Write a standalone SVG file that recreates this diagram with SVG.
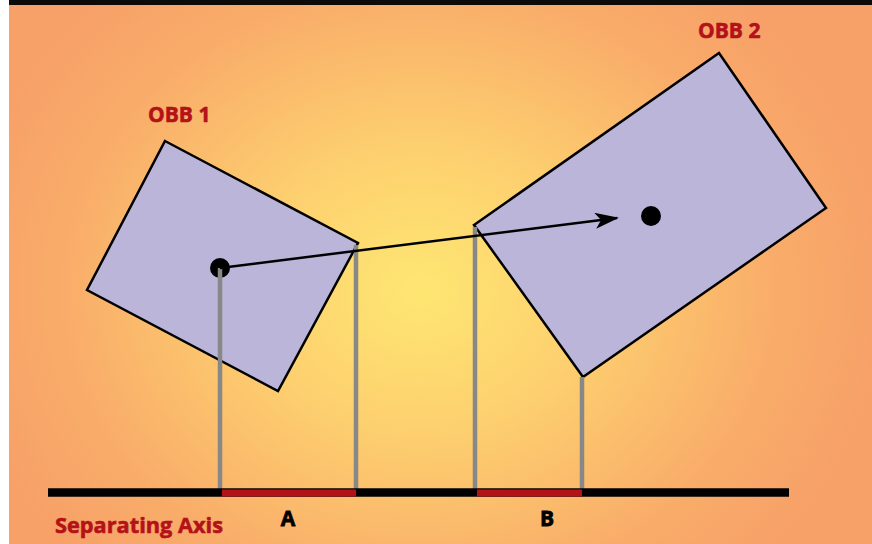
<svg xmlns="http://www.w3.org/2000/svg" width="872" height="544" viewBox="0 0 872 544">
<defs>
<radialGradient id="bg" cx="420" cy="290" r="470" gradientUnits="userSpaceOnUse" gradientTransform="translate(420 290) scale(1 0.85) translate(-420 -290)">
<stop offset="0" stop-color="#fee672"/>
<stop offset="0.35" stop-color="#fdd06f"/>
<stop offset="0.75" stop-color="#f9ad6a"/>
<stop offset="1" stop-color="#f7a068"/>
</radialGradient>
<marker id="arrow" viewBox="0 0 24 16" refX="22" refY="8" markerWidth="24" markerHeight="16" markerUnits="userSpaceOnUse" orient="auto">
<path d="M0,0 L24,8 L0,16 L6,8 Z" fill="#000"/>
</marker>
<style>
.obb{fill:#bbb5da;stroke:#000;stroke-width:2.5;stroke-linejoin:miter}
.proj{stroke:#888;stroke-width:4.5;fill:none}
.seg{stroke:#b41219;stroke-width:7}
.lbl{font-family:"Open Sans","Noto Sans",sans-serif;font-weight:bold;fill:#b41219;stroke:#b41219;stroke-width:0.6}
.ab{font-family:"Open Sans","Noto Sans",sans-serif;font-weight:bold;fill:#000;stroke:#000;stroke-width:0.8;font-size:21px;text-anchor:middle}
</style>
</defs>
<rect x="0" y="0" width="872" height="544" fill="#fff"/>
<rect x="9" y="0" width="863" height="544" fill="url(#bg)"/>
<rect x="9" y="0" width="863" height="5" fill="#0d0a0a"/>
<g id="obb1">
<polygon class="obb" points="165,141 358,243 278,391 87,290"/>
<circle cx="220" cy="268" r="10" fill="#000"/>
</g>
<g id="obb2">
<polygon class="obb" points="474,225 719,53 826,208 583,377"/>
<circle cx="651" cy="216" r="10" fill="#000"/>
</g>
<g id="connectors">
<line class="proj" x1="220" y1="268" x2="220" y2="492"/>
<line class="proj" x1="356" y1="245" x2="356" y2="492"/>
<line class="proj" x1="475" y1="227" x2="475" y2="492"/>
<line class="proj" x1="582" y1="377" x2="582" y2="492"/>
<line x1="48" y1="492.5" x2="789" y2="492.5" stroke="#000" stroke-width="8.5"/>
<line class="seg" x1="222" y1="493" x2="356" y2="493"/>
<line class="seg" x1="477" y1="493" x2="582" y2="493"/>
<line x1="220" y1="268" x2="617" y2="218" stroke="#000" stroke-width="2.5" marker-end="url(#arrow)"/>
</g>
<text class="lbl" x="148" y="122" font-size="21">OBB 1</text>
<text class="lbl" x="698" y="38" font-size="21">OBB 2</text>
<text class="lbl" x="55" y="533" font-size="22" textLength="168" lengthAdjust="spacingAndGlyphs">Separating Axis</text>
<text class="ab" x="288" y="526">A</text>
<text class="ab" x="547" y="526">B</text>
</svg>
